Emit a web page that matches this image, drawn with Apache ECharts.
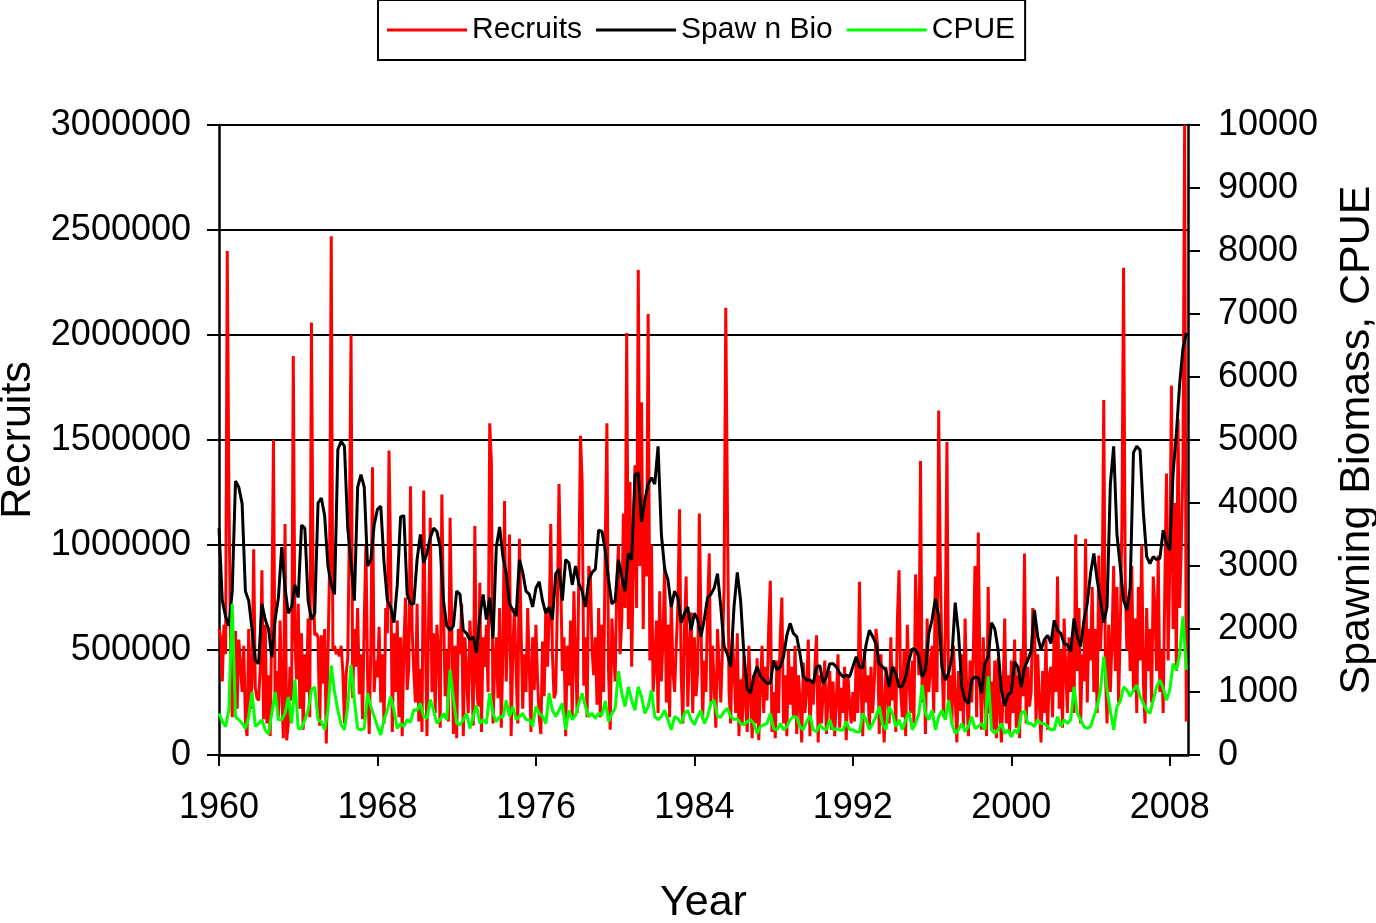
<!DOCTYPE html>
<html>
<head>
<meta charset="utf-8">
<title>Recruits, Spawning Biomass and CPUE</title>
<script src="https://cdn.jsdelivr.net/npm/echarts@6/dist/echarts.min.js"></script>
<style>
  html, body { margin: 0; padding: 0; background: #fff; }
  #chart { width: 1376px; height: 923px; }
</style>
</head>
<body>
<div id="chart"></div>
<script>
var startYear = 1960;

// recruits, thousands, monthly (one row per year, Jan..Dec)
var recruitsK = [
  600, 560, 350, 620, 480, 2400, 1250, 520, 180, 560, 590, 220,
  550, 430, 300, 520, 160, 90, 600, 220, 350, 980, 320, 270,
  260, 420, 880, 170, 620, 150, 380, 90, 650, 1500, 250, 400,
  180, 640, 300, 80, 1100, 70, 150, 420, 260, 1900, 550, 360,
  720, 220, 580, 120, 480, 300, 650, 180, 2060, 850, 570, 580,
  560, 140, 570, 340, 600, 55, 470, 900, 2470, 500, 520, 480,
  500, 470, 520, 400, 150, 380, 460, 1090, 2000, 270, 600, 420,
  700, 290, 480, 170, 640, 1000, 380, 100, 510, 1370, 300, 450,
  370, 610, 250, 480, 150, 700, 580, 1450, 920, 110, 580, 300,
  640, 180, 560, 90, 520, 750, 310, 420, 1280, 600, 400, 250,
  720, 160, 410, 110, 1260, 560, 90, 650, 1130, 300, 580, 200,
  620, 480, 130, 1240, 700, 280, 500, 160, 1130, 620, 100, 520,
  80, 600, 480, 720, 90, 560, 380, 200, 640, 470, 140, 1090,
  350, 230, 820, 110, 560, 420, 620, 300, 1580, 1400, 150, 420,
  560, 270, 700, 130, 480, 1210, 350, 620, 1050, 90, 500, 700,
  400, 150, 1030, 600, 220, 480, 300, 700, 420, 110, 560, 310,
  620, 350, 180, 100, 540, 280, 700, 420, 640, 1100, 480, 270,
  300, 720, 1290, 860, 400, 560, 90, 520, 330, 640, 180, 780,
  450, 200, 880, 1520, 1300, 330, 560, 180, 900, 850, 500, 380,
  560, 240, 700, 180, 620, 300, 1000, 1580, 400, 120, 650, 500,
  350, 820, 1000, 480, 640, 1150, 700, 2010, 600, 1300, 420, 900,
  1380, 700, 2310, 900, 1680, 600, 1200, 850, 2100, 450, 1000, 300,
  420, 640, 200, 780, 350, 560, 900, 250, 620, 180, 740, 400,
  300, 520, 710, 1170, 380, 150, 600, 850, 230, 500, 680, 200,
  560, 280, 400, 1150, 620, 170, 450, 300, 700, 960, 250, 520,
  330, 130, 600, 420, 250, 500, 800, 2130, 1200, 300, 150, 560,
  420, 200, 580, 90, 360, 150, 470, 250, 110, 520, 300, 80,
  380, 150, 460, 70, 330, 520, 200, 420, 260, 600, 830, 110,
  300, 80, 450, 200, 560, 750, 150, 380, 90, 500, 240, 420,
  180, 520, 100, 380, 260, 60, 440, 200, 310, 550, 90, 350,
  240, 420, 570, 60, 380, 150, 300, 450, 100, 280, 400, 120,
  350, 90, 260, 480, 130, 320, 200, 420, 70, 380, 250, 150,
  300, 160, 450, 200, 825, 300, 90, 500, 250, 380, 120, 420,
  200, 350, 600, 520, 100, 480, 230, 60, 420, 300, 150, 560,
  260, 420, 110, 650, 880, 300, 180, 500, 90, 620, 360, 200,
  450, 150, 860, 600, 380, 1400, 250, 500, 100, 650, 300, 420,
  520, 200, 850, 300, 1640, 900, 450, 180, 600, 1490, 250, 380,
  150, 520, 280, 60, 400, 210, 480, 130, 650, 300, 90, 450,
  250, 500, 900, 180, 1060, 380, 120, 560, 300, 90, 800, 200,
  350, 120, 450, 80, 460, 220, 60, 300, 650, 150, 380, 100,
  450, 200, 550, 130, 380, 80, 500, 280, 960, 150, 420, 230,
  300, 700, 650, 150, 480, 250, 60, 400, 200, 550, 120, 380,
  420, 180, 600, 300, 850, 220, 500, 130, 650, 400, 200, 560,
  300, 550, 200, 1050, 400, 700, 150, 480, 350, 1030, 250, 600,
  450, 800, 300, 600, 200, 950, 500, 700, 1690, 400, 150, 620,
  300, 550, 900, 400, 800, 250, 600, 1100, 2320, 850, 500, 750,
  400, 900, 300, 650, 200, 800, 450, 1000, 350, 150, 700, 400,
  600, 250, 850, 700, 400, 950, 300, 500, 200, 800, 1340, 450,
  900, 1760, 600, 1200, 400, 1600, 700, 1000, 1400, 3000, 160
];

// spawning biomass, every two months (six per year)
var spawnBio = [
  3600, 2450, 2200, 2050, 2600, 4350,
  4250, 3990, 2600, 2450, 2000, 1500,
  1450, 2400, 2150, 2000, 1550, 2150,
  2500, 3300, 2650, 2250, 2350, 2700,
  2500, 3650, 3600, 2450, 2150, 2250,
  4000, 4080, 3800, 3000, 2700, 2550,
  4850, 4980, 4900, 3600, 3050, 2450,
  4250, 4450, 4250, 3000, 3100, 3650,
  3900, 3950, 3050, 2450, 2350, 2100,
  2700, 3780, 3800, 2550, 2400, 2400,
  3100, 3500, 3050, 3200, 3450, 3600,
  3550, 3300, 2450, 2050, 1980, 2050,
  2600, 2550, 1980, 1930, 1830, 1880,
  1620, 2200, 2550, 2150, 2500, 1850,
  3300, 3620, 3150, 2880, 2400, 2300,
  2200, 3100, 2900, 2600, 2550, 2350,
  2650, 2750, 2450, 2250, 2350, 2150,
  2880, 2950, 2450, 3100, 3050, 2700,
  3000, 2720, 2600, 2350, 2780, 2900,
  2950, 3570, 3550, 3250, 2780, 2400,
  2450, 3100, 2830, 2600, 3200, 3100,
  4450, 4480, 3700, 4050, 4300, 4400,
  4300, 4900, 3500, 2950, 2780, 2350,
  2600, 2500, 2100, 2250, 2350, 1980,
  2250, 2150, 1880, 2150, 2500, 2550,
  2650, 2880, 2350, 1720, 1600, 1400,
  2350, 2900, 2450, 1600, 1050, 980,
  1250, 1400, 1250, 1190, 1140, 1140,
  1500, 1350, 1400, 1560, 1900, 2090,
  1930, 1880, 1600, 1250, 1190, 1190,
  1140, 1400, 1420, 1140, 1240, 1450,
  1450, 1400, 1300, 1240, 1270, 1240,
  1400, 1560, 1400, 1380, 1750, 1980,
  1880, 1770, 1450, 1400, 1350, 1080,
  1400, 1300, 1080, 1090, 1240, 1500,
  1690, 1670, 1560, 1240, 1350, 1930,
  2150, 2480, 2200, 1400, 1190, 1300,
  1560, 2420, 1930, 1080, 870, 820,
  1190, 1240, 1220, 980, 1450, 1560,
  2100, 2000, 1670, 1030, 780, 950,
  1000, 1480, 1400, 1080, 1380, 1510,
  1650, 2300, 1880, 1670, 1830, 1900,
  1770, 2140, 1980, 1930, 1770, 1750,
  1640, 2170, 1880, 1720, 2140, 2410,
  2880, 3200, 2780, 2460, 2100, 2350,
  4300, 4900, 3500, 2990, 2460, 2300,
  2650, 4800, 4900, 4840, 3850, 3150,
  3040, 3150, 3100, 3120, 3570, 3360,
  3250, 4470, 5100, 5900, 6450, 6700
];

// CPUE, every two months (six per year)
var cpue = [
  660, 530, 450, 720, 2400, 610,
  560, 500, 420, 610, 1000, 450,
  500, 560, 400, 330, 660, 1000,
  560, 560, 660, 920, 500, 1200,
  420, 420, 560, 710, 1030, 1080,
  560, 530, 400, 710, 1420, 1000,
  710, 480, 400, 770, 1430, 870,
  420, 400, 420, 980, 770, 610,
  450, 320, 560, 710, 925, 710,
  420, 500, 450, 560, 520, 720,
  710, 820, 610, 580, 880, 710,
  500, 560, 660, 560, 1350, 900,
  500, 480, 560, 660, 420, 610,
  790, 500, 560, 500, 980, 660,
  530, 610, 600, 870, 610, 770,
  560, 610, 660, 560, 560, 450,
  770, 660, 610, 500, 980, 710,
  610, 710, 820, 400, 710, 560,
  630, 820, 980, 770, 610, 660,
  580, 660, 630, 860, 530, 660,
  740, 1330, 980, 770, 1080, 870,
  710, 1080, 925, 660, 770, 1030,
  610, 560, 610, 710, 560, 400,
  610, 580, 500, 660, 710, 560,
  480, 610, 710, 500, 610, 820,
  870, 610, 600, 690, 740, 610,
  560, 580, 500, 480, 530, 560,
  500, 340, 450, 480, 500, 660,
  420, 400, 500, 400, 450, 560,
  610, 600, 450, 400, 530, 630,
  400, 370, 480, 420, 400, 560,
  400, 420, 400, 390, 530, 400,
  400, 370, 360, 660, 560, 400,
  500, 610, 770, 480, 400, 770,
  660, 450, 560, 400, 560, 690,
  400, 500, 660, 1110, 660, 560,
  710, 400, 610, 710, 560, 870,
  500, 340, 400, 500, 370, 450,
  610, 420, 450, 500, 400, 1250,
  400, 340, 400, 500, 340, 400,
  290, 400, 340, 660, 700, 500,
  500, 450, 560, 500, 500, 450,
  400, 400, 610, 450, 560, 500,
  560, 1080, 660, 560, 450, 420,
  450, 610, 770, 1030, 1560, 1030,
  700, 400, 770, 850, 1080, 1030,
  930, 1030, 1110, 930, 820, 710,
  660, 870, 1080, 1190, 1060, 870,
  1030, 1450, 1350, 1600, 2200, 1350
];

function toPoints(vals, perYear, scale) {
  return vals.map(function (v, i) {
    return [startYear + i / perYear, v * scale];
  });
}

var font = 'Liberation Sans, Arial, sans-serif';
var chart = echarts.init(document.getElementById('chart'), null, {renderer: 'canvas'});

var option = {
  animation: false,
  backgroundColor: '#ffffff',
  textStyle: {fontFamily: font, color: '#000'},
  legend: {
    left: 378,
    top: 0,
    padding: [15, 10, 15, 9],
    borderColor: '#000',
    borderWidth: 2,
    itemWidth: 80,
    itemHeight: 3,
    itemGap: 14,
    icon: 'rect',
    textStyle: {fontSize: 30, color: '#000', fontFamily: font},
    data: ['Recruits', 'Spaw n Bio', 'CPUE']
  },
  grid: {left: 219, right: 188, top: 125, bottom: 168, outerBoundsMode: 'none'},
  xAxis: {
    type: 'value',
    min: 1960,
    max: 2008.92,
    interval: 8,
    name: 'Year',
    nameLocation: 'middle',
    nameGap: 127,
    nameTextStyle: {fontSize: 43, color: '#000', fontFamily: font},
    axisLine: {lineStyle: {color: '#000', width: 2.5}},
    axisTick: {length: 11, lineStyle: {color: '#000', width: 2}},
    axisLabel: {
      fontSize: 36, color: '#000', fontFamily: font, margin: 35,
      showMaxLabel: false,
      formatter: function (v) { return Number.isInteger(v) ? String(v) : ''; }
    },
    splitLine: {show: false}
  },
  yAxis: [
    {
      type: 'value',
      min: 0,
      max: 3000000,
      interval: 500000,
      name: 'Recruits',
      nameLocation: 'middle',
      nameRotate: 90,
      nameGap: 174,
      nameTextStyle: {fontSize: 43, color: '#000', fontFamily: font},
      axisLine: {show: true, lineStyle: {color: '#000', width: 2.5}},
      axisTick: {show: true, length: 12, lineStyle: {color: '#000', width: 2}},
      axisLabel: {fontSize: 36, color: '#000', fontFamily: font, margin: 28,
        formatter: function (v) { return String(v); }},
      splitLine: {show: true, lineStyle: {color: '#000', width: 2}}
    },
    {
      type: 'value',
      position: 'right',
      min: 0,
      max: 10000,
      interval: 1000,
      name: 'Spawning Biomass, CPUE',
      nameLocation: 'middle',
      nameRotate: 90,
      nameGap: 148,
      nameTextStyle: {fontSize: 43, color: '#000', fontFamily: font},
      axisLine: {show: true, lineStyle: {color: '#000', width: 2.5}},
      axisTick: {show: true, length: 12, lineStyle: {color: '#000', width: 2}},
      axisLabel: {fontSize: 36, color: '#000', fontFamily: font, margin: 30,
        formatter: function (v) { return String(v); }},
      splitLine: {show: false}
    }
  ],
  series: [
    {
      name: 'Recruits',
      type: 'line',
      yAxisIndex: 0,
      showSymbol: false,
      symbol: 'none',
      data: toPoints(recruitsK, 12, 1000),
      itemStyle: {color: '#ff0000'},
      lineStyle: {color: '#ff0000', width: 3}
    },
    {
      name: 'Spaw n Bio',
      type: 'line',
      yAxisIndex: 1,
      showSymbol: false,
      symbol: 'none',
      data: toPoints(spawnBio, 6, 1),
      itemStyle: {color: '#000000'},
      lineStyle: {color: '#000000', width: 3}
    },
    {
      name: 'CPUE',
      type: 'line',
      yAxisIndex: 1,
      showSymbol: false,
      symbol: 'none',
      data: toPoints(cpue, 6, 1),
      itemStyle: {color: '#00ff00'},
      lineStyle: {color: '#00ff00', width: 3}
    }
  ]
};

chart.setOption(option);
</script>
</body>
</html>
